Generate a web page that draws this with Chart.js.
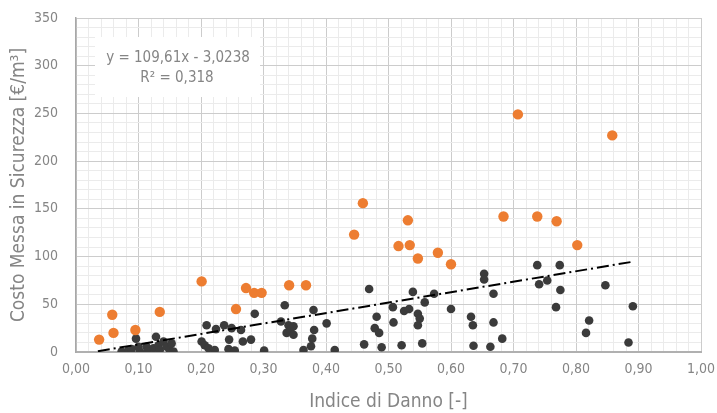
<!DOCTYPE html>
<html lang="it">
<head>
  <meta charset="UTF-8">
  <title>Costo Messa in Sicurezza vs Indice di Danno</title>
  <style>
    html, body {
      margin: 0;
      padding: 0;
      background: #fff;
    }
    canvas {
      display: block;
    }
  </style>
  <script src="https://cdn.jsdelivr.net/npm/chart.js"></script>
</head>
<body>
  <canvas id="chart" width="717" height="413"></canvas>

  <script>
    // high-cost points (orange)
    const orangeX = [0.037, 0.058, 0.060, 0.095, 0.134, 0.201, 0.256, 0.272, 0.285, 0.297, 0.341, 0.368, 0.445,
                     0.459, 0.516, 0.531, 0.534, 0.547, 0.579, 0.600, 0.684, 0.707, 0.738, 0.769, 0.802, 0.858];
    const orangeY = [13, 39, 20, 23, 42, 74, 45, 67, 62, 62, 70, 70, 123,
                     156, 111, 138, 112, 98, 104, 92, 142, 249, 142, 137, 112, 227];

    // remaining points (dark grey)
    const darkX = [0.073, 0.084, 0.089, 0.096, 0.100, 0.102, 0.113, 0.114, 0.124, 0.128, 0.132, 0.134, 0.140, 0.145, 0.150, 0.153, 0.156,
                   0.201, 0.206, 0.209, 0.212, 0.222, 0.224, 0.237, 0.244, 0.245, 0.249, 0.254, 0.264, 0.267, 0.280, 0.286, 0.301,
                   0.328, 0.334, 0.337, 0.340, 0.343, 0.348, 0.348, 0.364, 0.376, 0.378, 0.380, 0.381, 0.401, 0.414,
                   0.461, 0.469, 0.478, 0.481, 0.485, 0.489, 0.507, 0.508, 0.521, 0.525, 0.533, 0.539, 0.547, 0.547, 0.550, 0.554, 0.558, 0.573, 0.600,
                   0.632, 0.635, 0.636, 0.653, 0.653, 0.663, 0.668, 0.668, 0.682, 0.738, 0.741, 0.754, 0.768, 0.774, 0.775, 0.816, 0.821, 0.847, 0.884, 0.891];
    const darkY = [0.5, 2, 3, 14, 5.5, 0.5, 5.5, 0.5, 4, 16, 7, 2, 11, 5.5, 2, 9, 0.5,
                   11, 7, 28, 4, 2, 24, 28, 3, 13, 25, 1.5, 23, 11, 13, 40, 1.5,
                   32, 49, 20, 28, 23, 27, 18, 2, 6, 14, 44, 23, 30, 2,
                   8, 66, 25, 37, 20, 5, 47, 31, 7, 43, 45, 63, 40, 28, 35, 9, 52, 61, 45,
                   37, 28, 6.5, 82, 76, 5.5, 61, 31, 14, 91, 71, 75, 47, 91, 65, 20, 33, 70, 10, 48];

    // linear trend line endpoints (y = 109,61x - 3,0238)
    const trendX = [0.035, 0.891];
    const trendY = [0.8, 94.6];

    const equationLines = ['y = 109,61x - 3,0238', 'R\u00b2 = 0,318'];

    const toPoints = (xs, ys) => xs.map((x, i) => ({ x: x, y: ys[i] }));

    const FONT = "'Liberation Sans Narrow', 'DejaVu Sans Condensed', 'Roboto Condensed', 'Liberation Sans', sans-serif";
    const GREY_TEXT = '#858585';

    // white label box with the regression equation
    const equationBox = {
      id: 'equationBox',
      beforeDatasetsDraw(chart) {
        const ctx = chart.ctx;
        ctx.save();
        ctx.fillStyle = '#ffffff';
        ctx.fillRect(95, 37, 165, 60);
        ctx.fillStyle = GREY_TEXT;
        ctx.font = '15px ' + FONT;
        ctx.textAlign = 'center';
        ctx.textBaseline = 'middle';
        ctx.fillText(equationLines[0], 178, 58);
        ctx.fillText(equationLines[1], 177, 78);
        ctx.restore();
      }
    };

    const ctx = document.getElementById('chart').getContext('2d');
    new Chart(ctx, {
      type: 'scatter',
      data: {
        datasets: [
          {
            type: 'line',
            label: 'Lineare',
            data: toPoints(trendX, trendY),
            borderColor: '#000000',
            borderWidth: 2,
            borderDash: [12, 4, 2, 4],
            pointRadius: 0,
            fill: false,
            order: 0
          },
          {
            label: 'Alto costo',
            data: toPoints(orangeX, orangeY),
            backgroundColor: '#ED7D31',
            borderColor: '#ED7D31',
            pointRadius: 5.2,
            pointBorderWidth: 0,
            order: 1
          },
          {
            label: 'Altri',
            data: toPoints(darkX, darkY),
            backgroundColor: '#3b3b3b',
            borderColor: '#3b3b3b',
            pointRadius: 4.3,
            pointBorderWidth: 0,
            order: 2
          }
        ]
      },
      options: {
        responsive: false,
        animation: false,
        layout: {
          padding: { top: 18, right: 16, bottom: 0, left: 0 }
        },
        plugins: {
          legend: { display: false },
          tooltip: { enabled: false }
        },
        scales: {
          x: {
            type: 'linear',
            min: 0,
            max: 1,
            afterFit: (scale) => {
              scale.height = 61;
              scale.paddingLeft = 0;
              scale.paddingRight = 0;
            },
            ticks: {
              stepSize: 0.02,
              autoSkip: false,
              maxRotation: 0,
              padding: 9,
              color: GREY_TEXT,
              font: { family: FONT, size: 14 },
              callback: (value) => {
                const v = Math.round(value * 100);
                return v % 10 === 0 ? (v / 100).toFixed(2).replace('.', ',') : '';
              }
            },
            grid: {
              drawTicks: false,
              color: (c) => (c.tick && Math.round(c.tick.value * 100) % 10 === 0) ? '#cccccc' : '#ebebeb',
              lineWidth: 1
            },
            border: { display: true, color: '#b0b0b0', width: 2 },
            title: {
              display: true,
              text: 'Indice di Danno [-]',
              color: GREY_TEXT,
              font: { family: FONT, size: 19 },
              padding: { top: 2, bottom: 0 }
            }
          },
          y: {
            type: 'linear',
            min: 0,
            max: 350,
            afterFit: (scale) => {
              scale.width = 76;
              scale.paddingTop = 0;
              scale.paddingBottom = 0;
            },
            ticks: {
              stepSize: 10,
              autoSkip: false,
              padding: 18,
              color: GREY_TEXT,
              font: { family: FONT, size: 14 },
              callback: (value) => (Math.round(value) % 50 === 0 ? String(Math.round(value)) : '')
            },
            grid: {
              drawTicks: false,
              color: (c) => (c.tick && Math.round(c.tick.value) % 50 === 0) ? '#cccccc' : '#ebebeb',
              lineWidth: 1
            },
            border: { display: true, color: '#a8a8a8', width: 1.5 },
            title: {
              display: true,
              text: 'Costo Messa in Sicurezza [€/m³]',
              color: GREY_TEXT,
              font: { family: FONT, size: 19 },
              padding: { top: 8, bottom: 0 }
            }
          }
        }
      },
      plugins: [equationBox]
    });
  </script>
</body>
</html>
